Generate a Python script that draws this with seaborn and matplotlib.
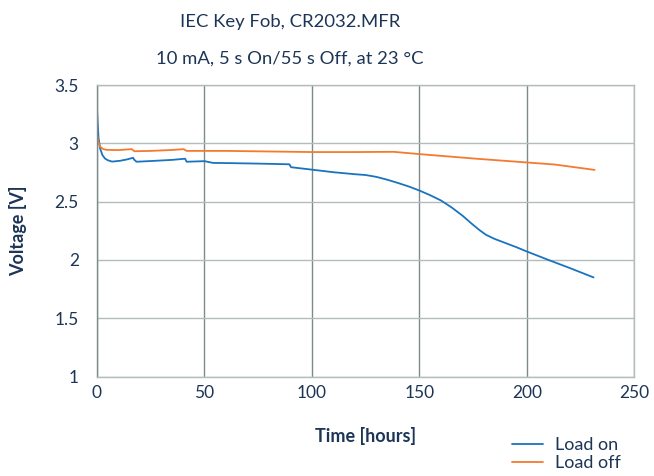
import numpy as np
import pandas as pd
import seaborn as sns
import matplotlib.pyplot as plt

# load on (blue) curve
on_hours = [0, 0.3, 0.7, 1.4, 2.5, 3.7, 5, 7, 10.7, 14, 16.8, 17.3, 18.4, 25, 35,
            41, 41.7, 50, 54, 62, 75, 85, 89.5, 90.3, 101, 110, 120, 125, 130,
            135, 140, 145, 150, 155, 160, 165, 170, 175, 178, 181, 185, 190,
            195, 200, 210, 220, 231]
on_volts = [3.29, 3.18, 3.05, 2.96, 2.90, 2.87, 2.855, 2.843, 2.85, 2.862, 2.876,
            2.86, 2.842, 2.848, 2.858, 2.868, 2.842, 2.847, 2.832, 2.83, 2.826,
            2.822, 2.82, 2.795, 2.772, 2.752, 2.735, 2.728, 2.712, 2.688, 2.66,
            2.63, 2.595, 2.555, 2.51, 2.45, 2.38, 2.30, 2.255, 2.215, 2.18,
            2.145, 2.11, 2.072, 2.0, 1.93, 1.85]

# load off (orange) curve
off_hours = [0, 0.5, 1.5, 3, 4.5, 10, 16.2, 17.4, 25, 35, 40.3, 41.7, 60, 80,
             100, 120, 138, 151, 175, 200.5, 213, 231.5]
off_volts = [3.08, 3.02, 2.97, 2.95, 2.944, 2.942, 2.95, 2.932, 2.935, 2.943,
             2.95, 2.935, 2.935, 2.93, 2.925, 2.925, 2.927, 2.906, 2.87, 2.835,
             2.818, 2.772]

x_ticks = [0, 50, 100, 150, 200, 250]
y_ticks = [1, 1.5, 2, 2.5, 3, 3.5]
y_labels = ['1', '1.5', '2', '2.5', '3', '3.5']

navy = '#1c3557'
blue = '#1a73bf'
orange = '#f47a2f'

sns.set_style('white')
plt.rcParams['font.family'] = ['Lato', 'DejaVu Sans']

fig = plt.figure(figsize=(6.54, 4.76), dpi=100)
ax = fig.add_axes([0.1483, 0.209, 0.8217, 0.6124])

sns.lineplot(x=on_hours, y=on_volts, color=blue, lw=1.3, sort=False,
             estimator=None, label='Load on', ax=ax)
sns.lineplot(x=off_hours, y=off_volts, color=orange, lw=1.3, sort=False,
             estimator=None, label='Load off', ax=ax)

ax.set_xlim(0, 250)
ax.set_ylim(1, 3.5)
ax.set_xticks(x_ticks)
ax.set_yticks(y_ticks)
ax.set_yticklabels(y_labels)
ax.tick_params(axis='both', labelsize=12.5, labelcolor=navy)
ax.tick_params(axis='x', length=0, pad=6)
ax.tick_params(axis='y', length=5, width=1, color='#8a9696', pad=8)

# grid: vertical darker, horizontal lighter
ax.xaxis.grid(True, color='#7d8b8b', lw=1)
ax.yaxis.grid(True, color='#b3bcbc', lw=1)
ax.set_axisbelow(True)
for side in ['top', 'right', 'bottom']:
    ax.spines[side].set_color('#b3bcbc')
ax.spines['left'].set_color('#7d8b8b')
for s in ax.spines.values():
    s.set_linewidth(1)

ax.set_xlabel('Time [hours]', fontsize=13, fontweight='bold', color=navy, labelpad=19)
ax.set_ylabel('Voltage [V]', fontsize=13, fontweight='bold', color=navy, labelpad=20)

fig.text(0.443, 1 - 22 / 476, 'IEC Key Fob, CR2032.MFR', ha='center', va='center',
         fontsize=13.3, color=navy)
fig.text(0.443, 1 - 59 / 476, '10 mA, 5 s On/55 s Off, at 23 °C', ha='center',
         va='center', fontsize=13.3, color=navy)

handles, labels = ax.get_legend_handles_labels()
ax.get_legend().remove()
fig.legend(handles, labels, loc='center left', bbox_to_anchor=(512 / 654, 1 - 454 / 476),
           frameon=False, fontsize=13, labelcolor=navy, handlelength=1.7,
           handletextpad=0.7, labelspacing=0.1, borderpad=0, borderaxespad=0)

fig.savefig('out.png', dpi=100)
